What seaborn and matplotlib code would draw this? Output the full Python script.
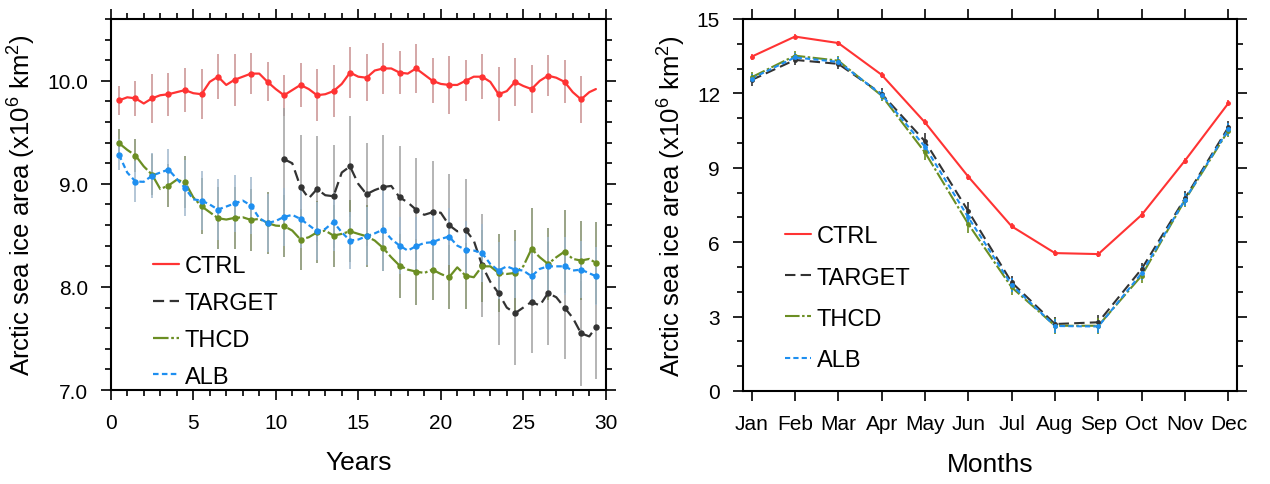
import numpy as np
import pandas as pd
import matplotlib.pyplot as plt
from matplotlib.ticker import MultipleLocator, FormatStrFormatter
import seaborn as sns

# ---- left panel: 30-yr time series, half-year grid (last point at 29.4) ----
years = np.append(np.arange(0.5, 29.5, 0.5), 29.4)

ctrl_ts = [9.81, 9.84, 9.83, 9.78, 9.83, 9.86, 9.87, 9.89, 9.91, 9.88,
           9.87, 9.99, 10.04, 9.96, 10.01, 10.04, 10.07, 10.07, 9.99, 9.92,
           9.86, 9.91, 9.96, 9.92, 9.86, 9.87, 9.90, 9.97, 10.08, 10.04,
           10.03, 10.10, 10.12, 10.12, 10.08, 10.07, 10.12, 10.06, 10.00, 9.97,
           9.96, 9.96, 10.00, 10.04, 10.04, 9.99, 9.87, 9.90, 9.99, 9.95,
           9.92, 10.00, 10.05, 10.03, 9.99, 9.89, 9.82, 9.89, 9.92]

# TARGET starts at year 10.5
target_ts = [9.24, 9.20, 8.97, 8.86, 8.95, 8.89, 8.88, 9.11, 9.17, 9.00,
             8.90, 8.94, 8.97, 8.98, 8.87, 8.82, 8.75, 8.70, 8.725, 8.72,
             8.60, 8.54, 8.555, 8.45, 8.21, 8.05, 7.94, 7.80, 7.745, 7.80,
             7.855, 7.82, 7.94, 7.90, 7.80, 7.70, 7.55, 7.52, 7.61]

thcd_ts = [9.395, 9.33, 9.275, 9.17, 9.09, 8.95, 8.984, 9.04, 9.016, 8.87,
           8.783, 8.725, 8.667, 8.654, 8.67, 8.676, 8.65, 8.66, 8.62, 8.595,
           8.59, 8.547, 8.46, 8.482, 8.53, 8.547, 8.498, 8.515, 8.54, 8.515,
           8.492, 8.45, 8.379, 8.288, 8.207, 8.168, 8.149, 8.136, 8.168, 8.126,
           8.094, 8.19, 8.11, 8.094, 8.20, 8.20, 8.136, 8.126, 8.136, 8.20,
           8.369, 8.288, 8.223, 8.288, 8.343, 8.272, 8.256, 8.272, 8.233]

alb_ts = [9.282, 9.11, 9.023, 9.02, 9.08, 9.11, 9.139, 9.05, 8.96, 8.85,
          8.838, 8.80, 8.751, 8.78, 8.81, 8.838, 8.79, 8.667, 8.62, 8.64,
          8.68, 8.699, 8.66, 8.60, 8.54, 8.563, 8.63, 8.53, 8.45, 8.46,
          8.492, 8.52, 8.556, 8.466, 8.401, 8.353, 8.395, 8.427, 8.434, 8.466,
          8.489, 8.401, 8.362, 8.353, 8.33, 8.223, 8.159, 8.20, 8.168, 8.159,
          8.104, 8.175, 8.20, 8.20, 8.20, 8.159, 8.168, 8.133, 8.104]

# spread (half width) at the yearly markers
ctrl_err = [0.14, 0.17, 0.24, 0.21, 0.21, 0.24, 0.22, 0.25, 0.20, 0.19,
            0.20, 0.21, 0.25, 0.25, 0.25, 0.23, 0.25, 0.21, 0.24, 0.22,
            0.28, 0.20, 0.22, 0.26, 0.23, 0.23, 0.20, 0.21, 0.23]
target_err = [0.50, 0.50, 0.51, 0.50, 0.49, 0.50, 0.50, 0.50, 0.50, 0.50,
              0.50, 0.49, 0.50, 0.50, 0.50, 0.50, 0.50, 0.50, 0.51, 0.50]
thcd_err = [0.14, 0.16, 0.20, 0.21, 0.25, 0.27, 0.30, 0.30, 0.30, 0.30,
            0.30, 0.30, 0.30, 0.30, 0.30, 0.30, 0.22, 0.31, 0.32, 0.29,
            0.31, 0.32, 0.35, 0.38, 0.42, 0.40, 0.35, 0.40, 0.38, 0.40]
alb_err = [0.15, 0.20, 0.22, 0.20, 0.27, 0.29, 0.30, 0.28, 0.28, 0.28,
           0.28, 0.28, 0.28, 0.28, 0.28, 0.28, 0.40, 0.28, 0.28, 0.28,
           0.28, 0.28, 0.28, 0.28, 0.28, 0.28, 0.28, 0.28, 0.28, 0.28]

# ---- right panel: seasonal cycle ----
months = ['Jan', 'Feb', 'Mar', 'Apr', 'May', 'Jun',
          'Jul', 'Aug', 'Sep', 'Oct', 'Nov', 'Dec']
ctrl_mon = [13.48, 14.29, 14.03, 12.75, 10.83, 8.64, 6.64, 5.56, 5.52, 7.10, 9.29, 11.60]
target_mon = [12.54, 13.35, 13.19, 11.98, 10.07, 7.25, 4.38, 2.70, 2.77, 4.92, 7.77, 10.63]
thcd_mon = [12.65, 13.52, 13.32, 11.91, 9.62, 6.73, 4.18, 2.63, 2.63, 4.65, 7.70, 10.50]
alb_mon = [12.60, 13.45, 13.27, 11.95, 9.85, 7.00, 4.28, 2.62, 2.60, 4.75, 7.72, 10.55]
ctrl_mon_err = [0.12, 0.10, 0.10, 0.12, 0.12, 0.12, 0.12, 0.12, 0.12, 0.14, 0.12, 0.12]
target_mon_err = [0.25, 0.20, 0.20, 0.25, 0.35, 0.35, 0.25, 0.28, 0.28, 0.25, 0.28, 0.25]
thcd_mon_err = [0.20, 0.18, 0.18, 0.20, 0.30, 0.35, 0.30, 0.33, 0.33, 0.30, 0.30, 0.25]
alb_mon_err = [0.20, 0.18, 0.18, 0.20, 0.28, 0.30, 0.28, 0.28, 0.28, 0.28, 0.28, 0.25]

sns.set_theme(style='ticks')
plt.rcParams['font.family'] = ['Liberation Sans', 'DejaVu Sans']
plt.rcParams['mathtext.fontset'] = 'custom'
plt.rcParams['mathtext.rm'] = 'Liberation Sans'
plt.rcParams['text.color'] = 'black'
plt.rcParams['axes.labelcolor'] = 'black'

red = '#ff3333'
dark = '#333333'
green = '#6b8e23'
blue = '#1e8ff0'
styles = {
    'CTRL': (red, '-'),
    'TARGET': (dark, (0, (5, 2.5))),
    'THCD': (green, (0, (7, 1.2, 1.2, 1.2))),
    'ALB': (blue, (0, (2.5, 1.5))),
}
bar_cols = {'CTRL': '#c99090', 'TARGET': '#a0a0a0', 'THCD': '#7d8a66', 'ALB': '#9fb6cc'}

fig = plt.figure(figsize=(12.7, 4.85), dpi=100)
ax1 = fig.add_axes([0.0872, 0.1938, 0.3898, 0.765])
ax2 = fig.add_axes([0.585, 0.1918, 0.389, 0.767])

# left panel
series = [('CTRL', years, ctrl_ts, ctrl_err),
          ('TARGET', years[20:], target_ts, target_err),
          ('THCD', years, thcd_ts, thcd_err),
          ('ALB', years, alb_ts, alb_err)]
for name, x, y, err in series:
    xm = np.asarray(x)[::2][:len(err)]
    ym = np.asarray(y)[::2][:len(err)]
    ax1.errorbar(xm, ym, yerr=err, fmt='none', ecolor=bar_cols[name],
                 elinewidth=1.1, capsize=0, zorder=1)
for name, x, y, err in series:
    c, ls = styles[name]
    df = pd.DataFrame({'year': x, 'area': y})
    sns.lineplot(data=df, x='year', y='area', ax=ax1, color=c, linestyle=ls,
                 lw=1.6, label=name, zorder=3)
    xm = np.asarray(x)[::2][:len(err)]
    ym = np.asarray(y)[::2][:len(err)]
    ax1.plot(xm, ym, 'o', color=c, ms=3.6, zorder=4)

ax1.set_xlim(0, 30)
ax1.set_ylim(7.0, 10.6)
ax1.xaxis.set_major_locator(MultipleLocator(5))
ax1.xaxis.set_minor_locator(MultipleLocator(1))
ax1.yaxis.set_major_locator(MultipleLocator(1))
ax1.yaxis.set_minor_locator(MultipleLocator(0.2))
ax1.yaxis.set_major_formatter(FormatStrFormatter('%.1f'))
ax1.set_xlabel('Years', fontsize=19, labelpad=13)
ax1.set_ylabel(r'Arctic sea ice area (x10$^6$ km$^2$)', fontsize=18.5, labelpad=7)
ax1.legend(loc='lower left', bbox_to_anchor=(0.056, -0.032), frameon=False,
           fontsize=17, handlelength=1.1, handletextpad=0.25, labelspacing=0.63,
           borderaxespad=0.2)

# right panel
xm = np.arange(len(months))
mon_series = [('CTRL', ctrl_mon, ctrl_mon_err), ('TARGET', target_mon, target_mon_err),
              ('THCD', thcd_mon, thcd_mon_err), ('ALB', alb_mon, alb_mon_err)]
for name, y, err in mon_series:
    c, ls = styles[name]
    df = pd.DataFrame({'month': xm, 'area': y})
    sns.lineplot(data=df, x='month', y='area', ax=ax2, color=c, linestyle=ls,
                 lw=1.5, label=name, zorder=3)
    ax2.errorbar(xm, y, yerr=err, fmt='o', color=c, ms=2.5, elinewidth=1.2,
                 capsize=0, zorder=4)

ax2.set_xlim(-0.2, 11.2)
ax2.set_ylim(0, 15)
ax2.set_xticks(xm)
ax2.set_xticklabels(months)
ax2.yaxis.set_major_locator(MultipleLocator(3))
ax2.yaxis.set_minor_locator(MultipleLocator(1))
ax2.set_xlabel('Months', fontsize=19, labelpad=14)
ax2.set_ylabel(r'Arctic sea ice area (x10$^6$ km$^2$)', fontsize=18.5, labelpad=7)
ax2.legend(loc='lower left', bbox_to_anchor=(0.056, 0.016), frameon=False,
           fontsize=17, handlelength=1.1, handletextpad=0.25, labelspacing=0.81,
           borderaxespad=0.2)

for ax in (ax1, ax2):
    for sp in ax.spines.values():
        sp.set_linewidth(1.5)
        sp.set_color('black')
    ax.tick_params(which='both', direction='out', top=True, right=True,
                   width=1.2, colors='black', labelsize=15)
    ax.tick_params(which='major', length=7.5, pad=9)
    ax.tick_params(which='minor', length=4)
ax2.tick_params(axis='x', which='minor', top=False, bottom=False)

fig.savefig('out.png', dpi=100)
